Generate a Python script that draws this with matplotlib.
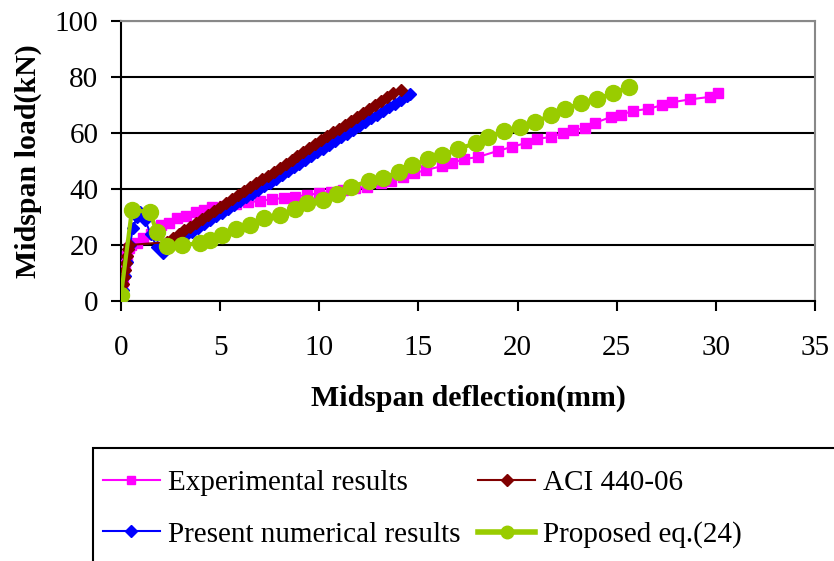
import matplotlib.pyplot as plt
from matplotlib.lines import Line2D
from matplotlib.patches import Rectangle

plt.rcParams['font.family'] = ['Liberation Serif', 'DejaVu Serif']

# Experimental results (magenta squares)
exp_x = [0, 0.05, 0.1, 0.15, 0.2, 0.3, 0.4, 0.5, 0.8, 1.1, 1.5, 2.0, 2.4, 2.8, 3.3,
         3.8, 4.2, 4.6, 5.2, 5.8, 6.4, 7.0, 7.6, 8.2, 8.8, 9.4, 10.0, 10.6, 11.2,
         11.8, 12.4, 13.1, 13.6, 14.2, 14.8, 15.4, 16.2, 16.7, 17.3, 18.0, 19.0,
         19.7, 20.4, 21.0, 21.7, 22.3, 22.8, 23.4, 23.9, 24.7, 25.2, 25.8, 26.6,
         27.3, 27.8, 28.7, 29.7, 30.1]
exp_y = [1, 4, 7, 10, 13, 16, 19, 20, 20.7, 22.5, 24, 27, 28, 29.6, 30.5,
         31.8, 32.5, 33.5, 34, 34.6, 35.2, 35.8, 36.3, 36.8, 37.3, 37.9, 38.5, 39.0, 39.6,
         40.2, 40.8, 42.0, 42.8, 44.3, 45.7, 46.8, 48.2, 49.3, 50.7, 51.4, 53.6,
         55.0, 56.4, 57.9, 58.6, 60.0, 61.0, 61.8, 63.6, 65.7, 66.4, 67.9, 68.6,
         70.0, 71.0, 72.0, 72.9, 74.3]

# ACI 440-06 (dark red diamonds)
aci_x = [0, 0.05, 0.1, 0.15, 0.2, 0.25, 0.3, 0.35, 0.4, 2.3, 2.6, 2.9, 3.2, 3.5,
         3.8, 4.1, 4.4, 4.7, 5.0, 5.3, 5.6, 5.9, 6.2, 6.5, 6.8, 7.1, 7.4, 7.7, 8.0,
         8.3, 8.6, 8.9, 9.2, 9.5, 9.8, 10.1, 10.4, 10.7, 11.0, 11.3, 11.6, 11.9,
         12.2, 12.5, 12.8, 13.1, 13.4, 13.7, 14.1]
aci_y = [1, 3.5, 6, 8.5, 11, 13.5, 16, 18.5, 20, 21, 22.4, 23.8, 25.2, 26.6,
         28.0, 29.4, 30.8, 32.2, 33.6, 35.0, 36.4, 37.8, 39.2, 40.6, 42.0, 43.4, 44.8,
         46.2, 47.6, 49.0, 50.4, 51.8, 53.2, 54.6, 56.0, 57.4, 58.8, 60.2, 61.6, 63.0,
         64.4, 65.8, 67.2, 68.6, 70.0, 71.4, 72.8, 74.2, 75.4]

# Present numerical results (blue diamonds)
num_x = [0, 0.1, 0.2, 0.3, 0.45, 0.6, 0.8, 0.96, 1.2, 1.5, 1.8, 2.1, 2.4, 2.7, 3.0,
         3.3, 3.6, 3.9, 4.2, 4.5, 4.8, 5.1, 5.4, 5.7, 6.0, 6.3, 6.6, 6.9, 7.2, 7.5,
         7.8, 8.1, 8.4, 8.7, 9.0, 9.3, 9.6, 9.9, 10.2, 10.5, 10.8, 11.1, 11.4, 11.7,
         12.0, 12.3, 12.6, 12.9, 13.2, 13.5, 13.8, 14.1, 14.4, 14.6]
num_y = [0, 4, 9, 14, 20, 26, 30, 31.8, 29, 24, 19.4, 17, 19.5, 20.8, 22.2,
         23.5, 24.8, 26.2, 27.5, 28.9, 30.2, 31.6, 32.9, 34.3, 35.6, 37.0, 38.3, 39.6,
         41.0, 42.3, 43.7, 45.0, 46.4, 47.7, 49.0, 50.4, 51.7, 53.1, 54.4, 55.8, 57.1,
         58.4, 59.8, 61.1, 62.5, 63.8, 65.2, 66.5, 67.8, 69.2, 70.5, 71.9, 73.2, 73.8]

# Proposed eq.(24) (green circles)
prop_x = [0, 0.55, 1.46, 1.8, 2.3, 3.1, 4.0, 4.5, 5.1, 5.8, 6.5, 7.2, 8.0, 8.8, 9.4,
          10.2, 10.9, 11.6, 12.5, 13.2, 14.0, 14.7, 15.5, 16.2, 17.0, 17.9, 18.5,
          19.3, 20.1, 20.9, 21.7, 22.4, 23.2, 24.0, 24.8, 25.6]
prop_y = [2, 32.5, 31.8, 24.6, 19.5, 20, 20.7, 21.8, 23.6, 25.7, 27.1, 29.6, 30.7,
          32.8, 35, 36, 38.2, 40.7, 42.9, 44, 46, 48.4, 50.7, 52.1, 54.3, 56.4, 58.6,
          60.7, 62.1, 64, 66.4, 68.6, 70.7, 72.1, 74.3, 76.4]

fig = plt.figure(figsize=(8.34, 5.61), dpi=100)
ax = fig.add_axes([121 / 834, 1 - 301 / 561, (815 - 121) / 834, (301 - 21) / 561])

ax.plot(exp_x, exp_y, color='#FF00FF', marker='s', ms=7.5, mec='#FF00FF', lw=1.5, zorder=3)
ax.plot(num_x, num_y, color='#0000FF', marker='D', ms=6, mec='#0000FF', lw=1.5, zorder=4)
ax.plot(aci_x, aci_y, color='#800000', marker='D', ms=6, mec='#800000', lw=1.5, zorder=5)
ax.plot(prop_x, prop_y, color='#99CC00', marker='o', ms=11.5, mec='#99CC00', lw=3, zorder=6)

ax.set_xlim(0, 35)
ax.set_ylim(0, 100)
ax.set_xticks(range(0, 36, 5))
ax.set_yticks(range(0, 101, 20))
ax.grid(axis='y', color='black', lw=1.5)
ax.set_axisbelow(True)
for s in ['top', 'right']:
    ax.spines[s].set_color('#888888')
    ax.spines[s].set_linewidth(1.5)
for s in ['left', 'bottom']:
    ax.spines[s].set_linewidth(1.5)
ax.tick_params(axis='x', direction='out', length=7.2, width=1.5, labelsize=21, pad=17.5)
ax.tick_params(axis='y', direction='out', length=7.2, width=1.5, labelsize=21, pad=9)
ax.set_xlabel('Midspan deflection(mm)', fontsize=21.5, fontweight='bold', labelpad=17)
ax.set_ylabel('Midspan load(kN)', fontsize=21.5, fontweight='bold', labelpad=9)

# legend box, clipped by the figure edge
fig.patches.append(Rectangle((93 / 834, -0.1), 1, 1 - 448 / 561 + 0.1,
                             transform=fig.transFigure, fill=False,
                             edgecolor='black', lw=1.5))
handles = [
    Line2D([], [], color='#FF00FF', marker='s', ms=6, lw=1.5),
    Line2D([], [], color='#0000FF', marker='D', ms=6, lw=1.5),
    Line2D([], [], color='#800000', marker='D', ms=6, lw=1.5),
    Line2D([], [], color='#99CC00', marker='o', ms=9, lw=4),
]
labels = ['Experimental results', 'Present numerical results',
          'ACI 440-06', 'Proposed eq.(24)']
fig.legend(handles, labels, ncol=2, loc='upper left',
           bbox_to_anchor=(103 / 834, 1 - 470 / 561), frameon=False,
           borderpad=0, borderaxespad=0,
           fontsize=21, handlelength=1.95, handletextpad=0.27,
           columnspacing=0.62, labelspacing=0.85)

fig.savefig('out.png', dpi=100)
